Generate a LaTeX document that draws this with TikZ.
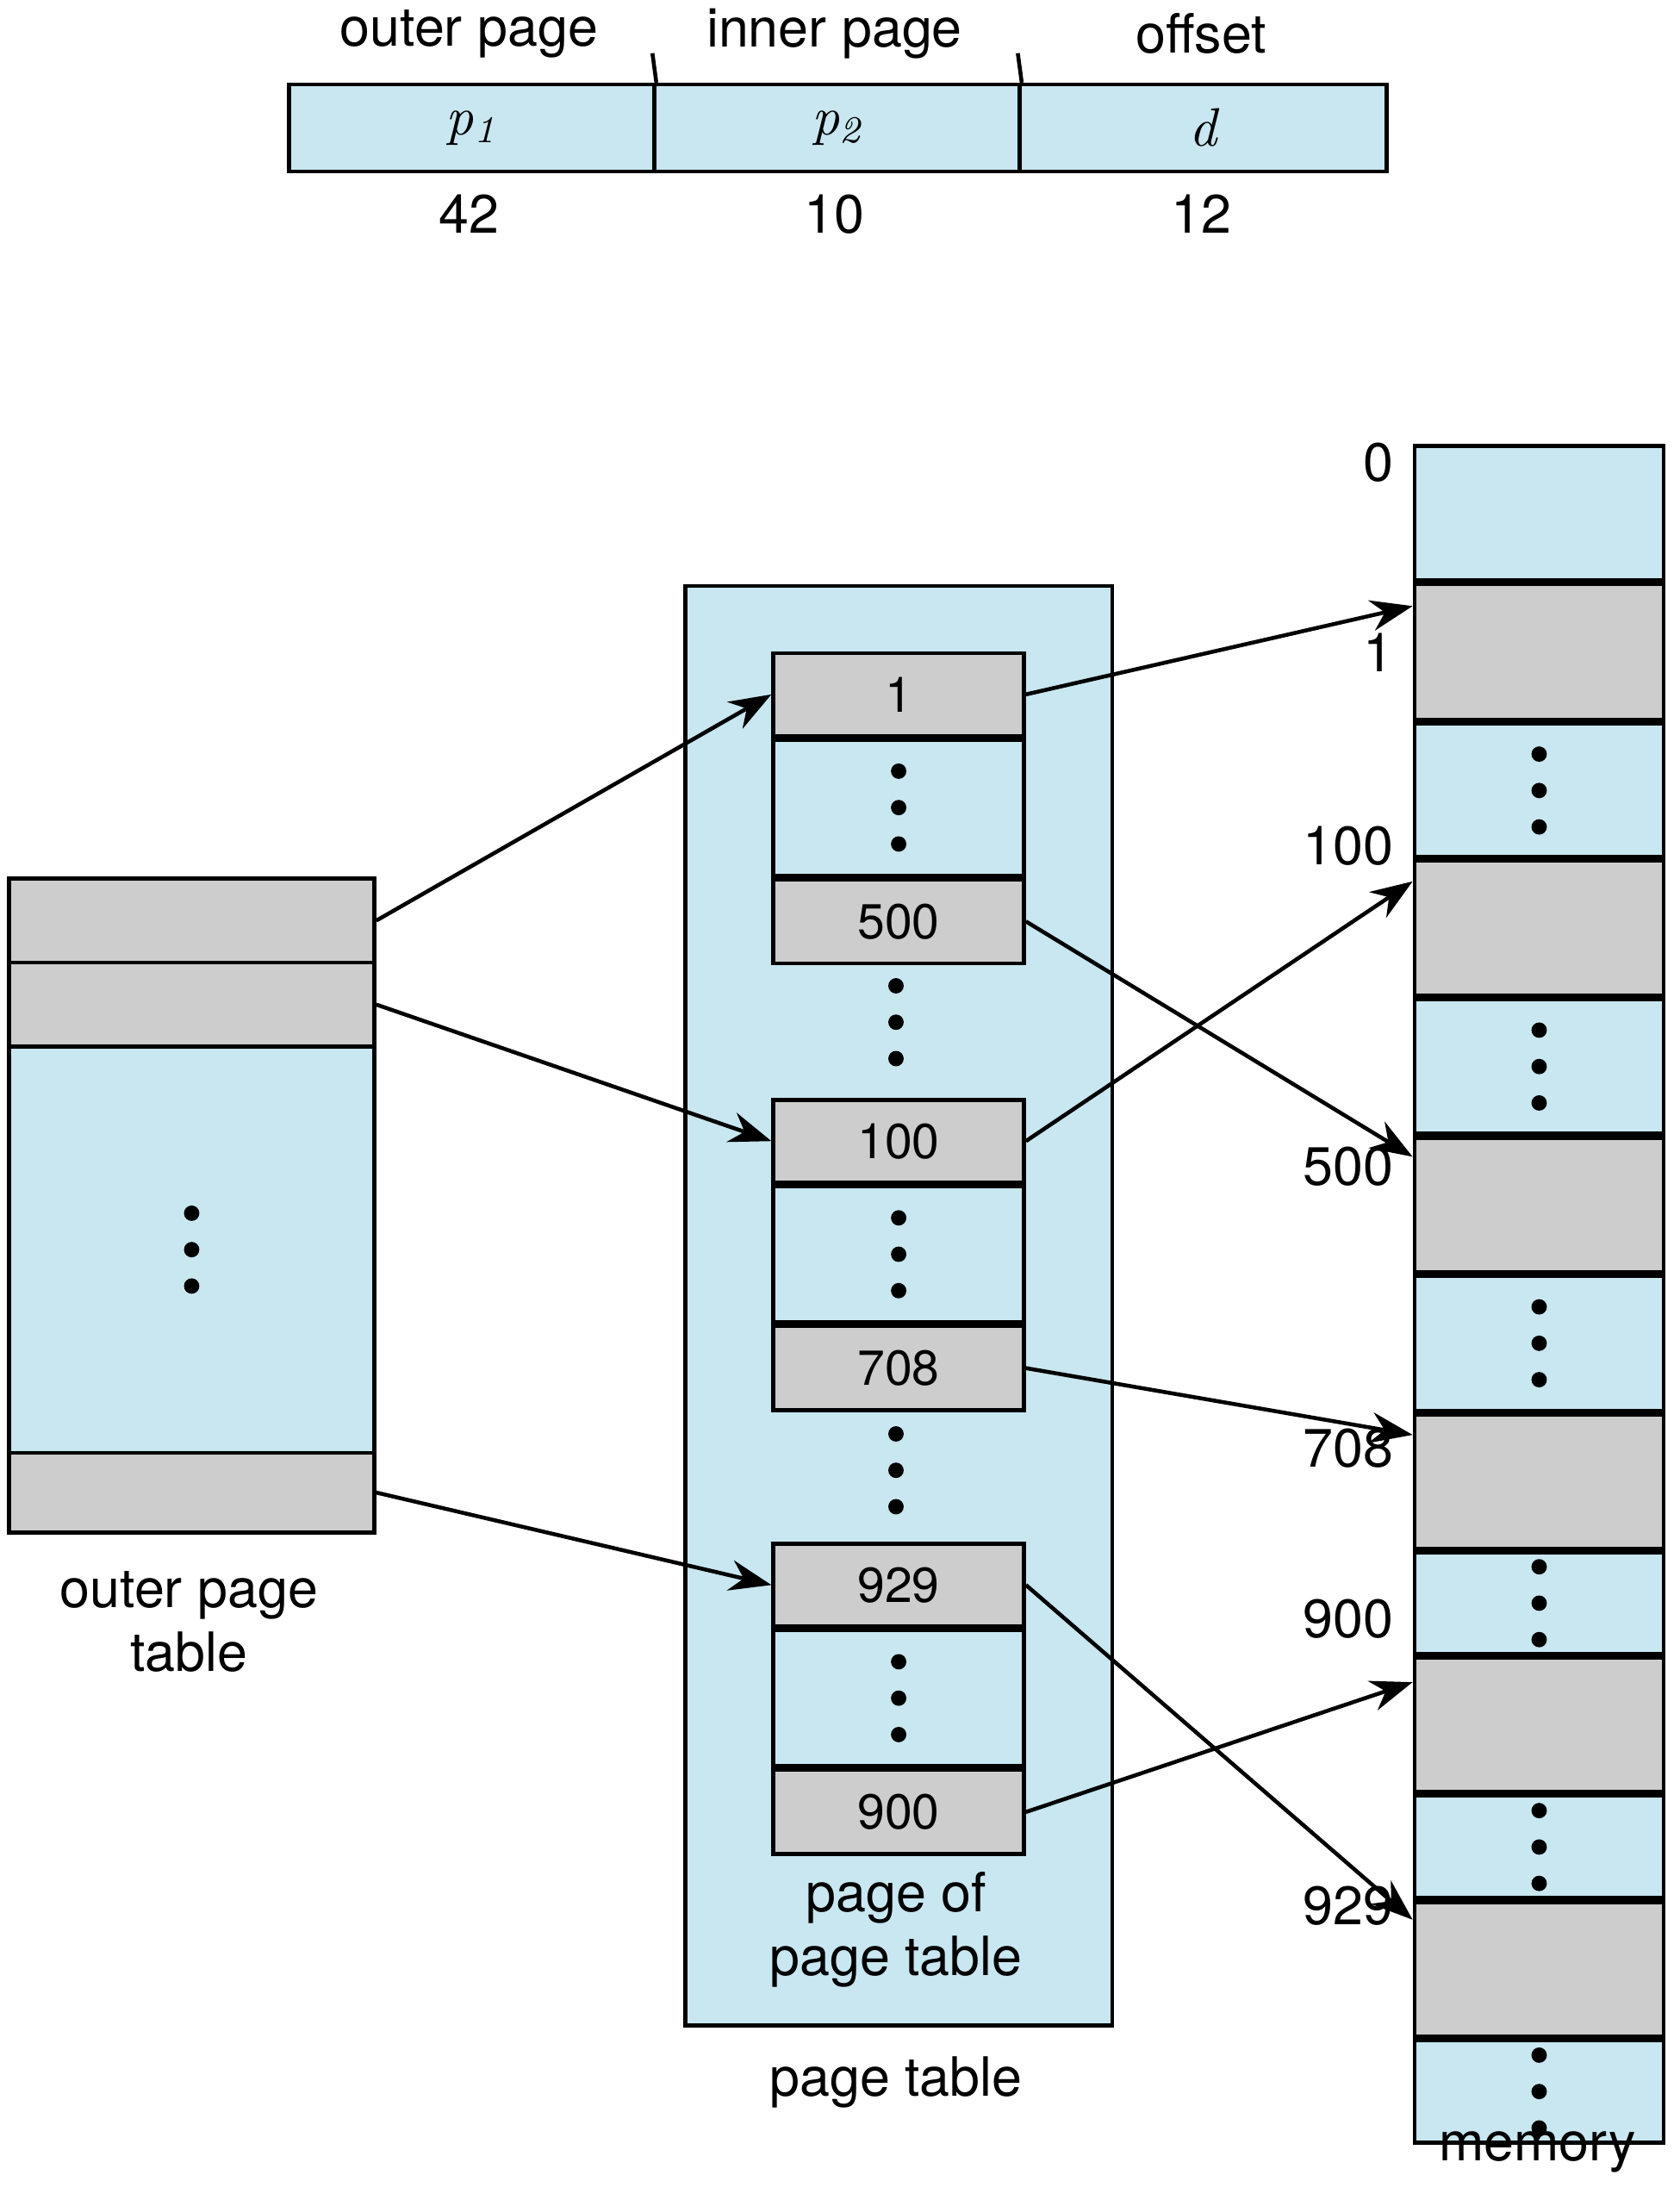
\documentclass[tikz,border=0pt]{standalone}
\usepackage{fontspec}
\setmainfont{TeX Gyre Heros}
\usepackage{xcolor}
\usetikzlibrary{arrows.meta,calc}
\definecolor{pblue}{HTML}{C8E7F0}
\definecolor{pgray}{HTML}{CDCDCD}
\tikzset{
	cell/.style 2 args={draw, thick, anchor=north west, inner sep=0pt,
		minimum width=#1cm, minimum height=#2cm},
	gcell/.style 2 args={cell={#1}{#2}, fill=pgray},
	bcell/.style 2 args={cell={#1}{#2}, fill=pblue},
	lbl/.style={font=\fontsize{11}{13}\selectfont, align=center, inner sep=0pt},
	ptr/.style={thick, -{Stealth[length=3mm,width=2.2mm]}},
}
\newcommand{\threedots}[1]{%
	\foreach \dy in {-0.26,0,0.26} \fill ($(#1)+(0,\dy)$) circle (0.055);}
\begin{document}
\begin{tikzpicture}[yscale=-1]
	\useasboundingbox (0,0) rectangle (12,15.754);
	
	% logical address
	\node[bcell={2.61}{0.62}] (f1) at (2.05,0.59) {};
	\node[bcell={2.61}{0.62}] (f2) at (4.66,0.59) {};
	\node[bcell={2.62}{0.62}] (f3) at (7.27,0.59) {};
	\draw[thick] (4.66,0.38) -- (f1.north east);
	\draw[thick] (7.27,0.38) -- (f2.north east);
	\node[lbl] at (3.35,0.24) {outer page};
	\node[lbl] at (5.96,0.24) {inner page};
	\node[lbl] at (8.58,0.24) {offset};
	\node[lbl] at (f1) {\fontspec{Latin Modern Roman}\itshape p\textsubscript{1}};
	\node[lbl] at (f2) {\fontspec{Latin Modern Roman}\itshape p\textsubscript{2}};
	\node[lbl] at (f3) {\fontspec{Latin Modern Roman}\itshape d};
	\node[lbl] at (3.35,1.53) {42};
	\node[lbl] at (5.96,1.53) {10};
	\node[lbl] at (8.58,1.53) {12};
	
	% outer page table
	\node[gcell={2.61}{0.60}] (o1) at (0.05,6.26) {};
	\node[gcell={2.61}{0.60}] (o2) at (0.05,6.86) {};
	\node[bcell={2.61}{2.90}] (o3) at (0.05,7.46) {};
	\node[gcell={2.61}{0.57}] (o4) at (0.05,10.36) {};
	\threedots{o3.center}
	\node[lbl] at (1.35,11.58) {outer page\\table};
	
	% page table
	\node[bcell={3.05}{10.28}] (pt) at (4.88,4.17) {};
	\node[lbl] at (6.40,13.78) {page of\\page table};
	\node[lbl] at (6.40,14.87) {page table};
	\foreach \name/\top/\a/\b in {ba/4.65/1/500, bb/7.84/100/708, bc/11.01/929/900} {
		\node[gcell={1.79}{0.59}] (\name1) at (5.51,\top) {\a};
		\node[bcell={1.79}{0.97}] (\name2) at (\name1.south west) {};
		\node[gcell={1.79}{0.60}] (\name3) at (\name2.south west) {\b};
		\threedots{\name2.center}
	}
	\threedots{6.40,7.30}
	\threedots{6.40,10.50}
	
	% memory
	\coordinate (mt) at (10.09,3.17);
	\foreach \i/\h/\c in {0/0.96/pblue, 1/0.97/pgray, 2/0.95/pblue, 3/0.96/pgray,
		4/0.96/pblue, 5/0.96/pgray, 6/0.96/pblue, 7/0.96/pgray, 8/0.72/pblue,
		9/0.96/pgray, 10/0.73/pblue, 11/0.96/pgray, 12/0.73/pblue} {
		\node[cell={1.78}{\h}, fill=\c] (m\i) at (mt) {};
		\coordinate (mt) at (m\i.south west);
	}
	\foreach \i in {2,4,6,8,10,12} {\threedots{m\i.center}}
	\foreach \t/\y in {0/3.30, 1/4.66, 100/6.04, 500/8.33, 708/10.34, 900/11.56, 929/13.61}
		\node[lbl, anchor=east] at (9.96,\y) {\t};
	\node[lbl] at (10.98,15.37) {memory};
	
	% pointers
	\draw[ptr] (o1.east) -- (ba1.west);
	\draw[ptr] (o2.east) -- (bb1.west);
	\draw[ptr] (o4.east) -- (bc1.west);
	\draw[ptr] (ba1.east) -- ($(m1.north west)+(0,0.17)$);
	\draw[ptr] (ba3.east) -- ($(m5.north west)+(0,0.15)$);
	\draw[ptr] (bb1.east) -- ($(m3.north west)+(0,0.16)$);
	\draw[ptr] (bb3.east) -- ($(m7.north west)+(0,0.16)$);
	\draw[ptr] (bc1.east) -- ($(m11.north west)+(0,0.14)$);
	\draw[ptr] (bc3.east) -- ($(m9.north west)+(0,0.19)$);
\end{tikzpicture}
\end{document}
